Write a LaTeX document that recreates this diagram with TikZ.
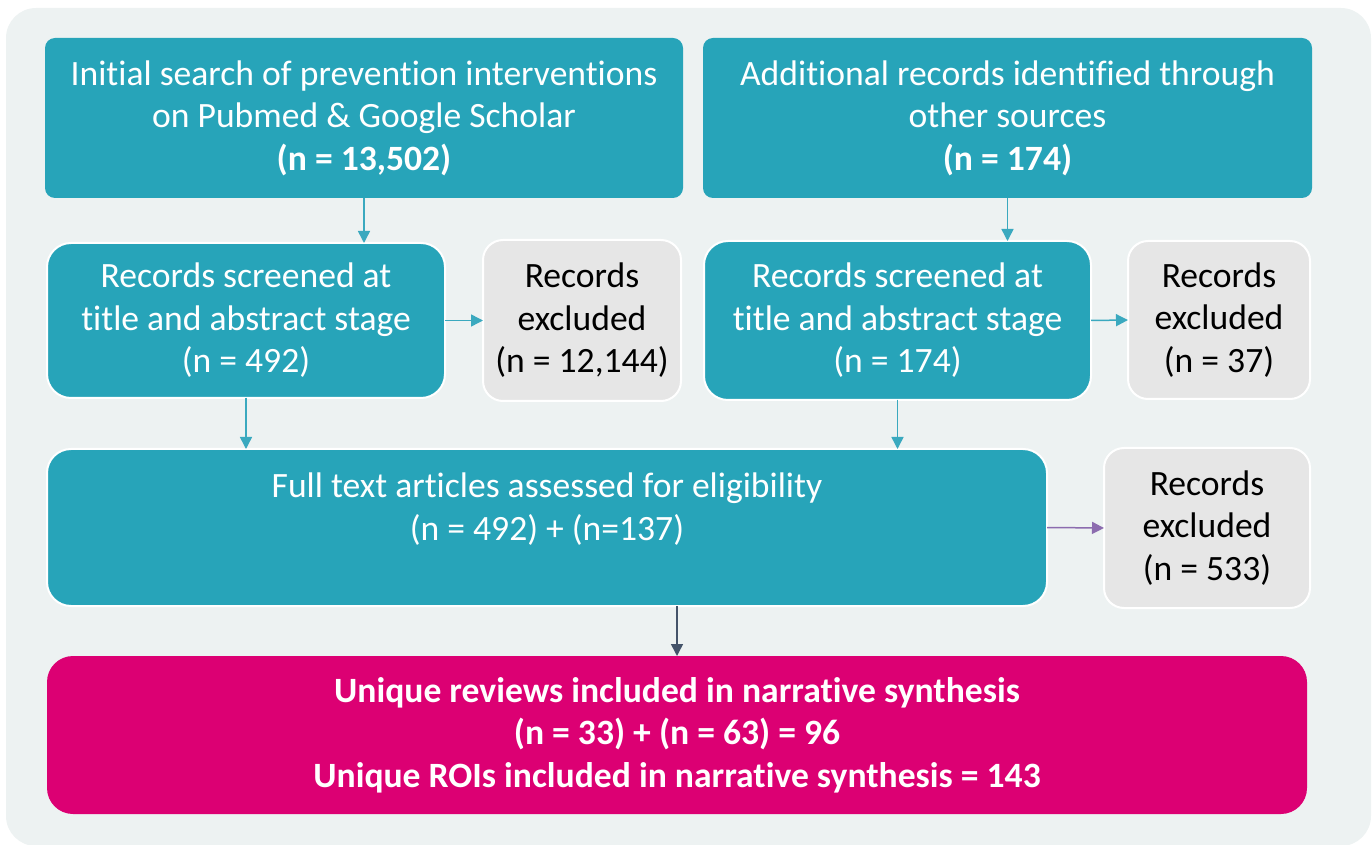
\documentclass[tikz,border=0pt]{standalone}
\usepackage{fontspec}
\setmainfont{Carlito}[Ligatures=NoCommon]
\usetikzlibrary{arrows.meta}
\definecolor{tealx}{HTML}{27A4B9}
\definecolor{arrteal}{HTML}{3AA9BF}
\definecolor{grayx}{HTML}{E6E6E6}
\definecolor{pinkx}{HTML}{DC0073}
\definecolor{bgx}{HTML}{EDF2F2}
\definecolor{purplex}{HTML}{5B2D8C}
\definecolor{slatex}{HTML}{44546A}
\tikzset{
  base/.style={rectangle, align=center, inner sep=0pt, outer sep=0pt, font=\fontsize{17.8}{21.3}\selectfont},
  topbox/.style={base, fill=tealx, text=white, rounded corners=5pt},
  midbox/.style={base, fill=tealx, text=white, draw=white, line width=1pt, rounded corners=12pt},
  exbox/.style={base, fill=grayx, text=black, draw=white, line width=1pt, rounded corners=10pt},
  pinkbox/.style={base, fill=pinkx, text=white, rounded corners=13pt, font=\fontsize{17.8}{21.3}\selectfont\bfseries},
  txt/.style={base, text=white},
  arr/.style={-{Triangle[length=6pt,width=6pt]}, line width=0.75pt, draw=arrteal, fill=arrteal},
}
\begin{document}
\begin{tikzpicture}[x=0.5pt,y=-0.5pt]
\useasboundingbox (0,0) rectangle (1372,845);
\fill[bgx, rounded corners=15pt] (6,8) rectangle (1371,846);

\node[topbox, minimum width=319pt, minimum height=80pt] (init) at (364,118)
  {Initial search of prevention interventions\\on Pubmed \& Google Scholar\\\textbf{(n = 13,502)}};
\node[topbox, minimum width=304.5pt, minimum height=80pt] (addl) at (1007.5,118)
  {Additional records identified through\\other sources\\\textbf{(n = 174)}};

\node[midbox, minimum width=199pt, minimum height=77.5pt] (scrL) at (246,320.5)
  {Records screened at\\title and abstract stage\\(n = 492)};
\node[exbox, minimum width=99pt, minimum height=80.5pt] (exL) at (582,320.5)
  {Records\\excluded\\(n = 12,144)};
\node[midbox, minimum width=193.5pt, minimum height=79.5pt] (scrR) at (897.5,320.5)
  {Records screened at\\title and abstract stage\\(n = 174)};
\node[exbox, minimum width=91pt, minimum height=79pt] (exR) at (1219,320)
  {Records\\excluded\\(n = 37)};

\node[midbox, minimum width=500pt, minimum height=78.5pt] (full) at (547,527.5) {};
\node[txt] (fulltxt) at (547,509) {Full text articles assessed for eligibility\\(n = 492) + (n=137)};
\node[exbox, minimum width=103pt, minimum height=80pt] (exF) at (1207,528)
  {Records\\excluded\\(n = 533)};

\node[pinkbox, minimum width=630pt, minimum height=79pt] (final) at (677,735)
  {Unique reviews included in narrative synthesis\\(n = 33) + (n = 63) = 96\\Unique ROIs included in narrative synthesis = 143};

\draw[arr] (init.south) -- (init.south |- scrL.north);
\draw[arr] (addl.south) -- (addl.south |- scrR.north);
\draw[arr] (scrL.east) -- (exL.west);
\draw[arr] (scrR.east) -- (exR.west);
\draw[arr] (scrL.south) -- (scrL.south |- full.north);
\draw[arr] (scrR.south) -- (scrR.south |- full.north);
\draw[arr, draw=purplex!70, fill=purplex] (full.east) -- (exF.west);
\draw[arr, draw=slatex, fill=slatex] (full.south -| final.north) -- (final.north);
\end{tikzpicture}
\end{document}
